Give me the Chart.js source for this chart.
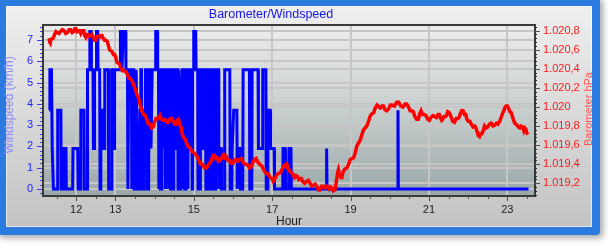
<!DOCTYPE html>
<html>
<head>
<meta charset="utf-8">
<script src="https://cdn.jsdelivr.net/npm/chart.js@4"></script>
<style>
  html, body { margin: 0; padding: 0; background: #fff; }
</style>
</head>
<body>
<canvas id="chart" width="611" height="246"></canvas>
<script>
// wind speed (km/h), change points
const windHours = [
  11.32, 11.33, 11.37, 11.39, 11.42, 11.52, 11.53, 11.61, 11.62, 11.67, 11.68, 11.74, 11.75,
  11.91, 11.92, 12.04, 12.05, 12.11, 12.12, 12.20, 12.21, 12.28, 12.29, 12.34, 12.35, 12.38,
  12.39, 12.43, 12.44, 12.46, 12.47, 12.51, 12.52, 12.55, 12.56, 12.60, 12.61, 12.63, 12.65,
  12.68, 12.69, 12.72, 12.73, 12.82, 12.83, 12.90, 12.91, 12.96, 12.97, 12.98, 13.12, 13.13,
  13.16, 13.17, 13.19, 13.20, 13.26, 13.27, 13.31, 13.32, 13.34, 13.41, 13.42, 13.44, 13.47,
  13.48, 13.52, 13.53, 13.55, 13.56, 13.58, 13.62, 13.63, 13.65, 13.67, 13.68, 13.72, 13.73,
  13.76, 13.77, 13.80, 13.81, 13.85, 13.86, 13.90, 13.91, 13.93, 13.94, 14.02, 14.03, 14.07,
  14.08, 14.10, 14.11, 14.12, 14.14, 14.15, 14.18, 14.19, 14.22, 14.23, 14.24, 14.27, 14.28,
  14.30, 14.32, 14.35, 14.36, 14.37, 14.40, 14.41, 14.43, 14.44, 14.47, 14.48, 14.49, 14.52,
  14.53, 14.55, 14.56, 14.59, 14.60, 14.61, 14.62, 14.63, 14.66, 14.67, 14.70, 14.73, 14.74,
  14.75, 14.76, 14.77, 14.79, 14.80, 14.84, 14.85, 14.86, 14.88, 14.89, 14.91, 14.95, 14.96,
  14.97, 14.99, 15.00, 15.05, 15.06, 15.10, 15.11, 15.16, 15.17, 15.22, 15.23, 15.26, 15.27,
  15.30, 15.31, 15.35, 15.36, 15.40, 15.41, 15.43, 15.47, 15.48, 15.52, 15.53, 15.56, 15.57,
  15.63, 15.64, 15.66, 15.70, 15.71, 15.78, 15.79, 15.92, 15.93, 15.97, 15.98, 16.02, 16.10,
  16.11, 16.14, 16.18, 16.19, 16.25, 16.26, 16.42, 16.43, 16.48, 16.49, 16.64, 16.65, 16.75,
  16.76, 16.84, 16.85, 16.88, 16.89, 16.95, 16.96, 17.05, 17.06, 17.27, 17.28, 17.33, 17.34,
  17.42, 17.43, 17.48, 17.49, 18.38, 18.39, 18.40, 20.20, 20.21, 20.22, 23.54
];
const windSpeed = [
  3.7, 5.6, 5.6, 1.9, 0, 0, 3.7, 3.7, 0, 0, 1.9, 1.9, 0,
  0, 1.9, 1.9, 0, 0, 3.7, 3.7, 0, 0, 5.6, 5.6, 7.4, 7.4,
  5.6, 5.6, 1.9, 1.9, 5.6, 5.6, 7.4, 7.4, 5.6, 5.6, 0, 1.9, 3.7,
  3.7, 1.9, 1.9, 5.6, 5.6, 0, 0, 5.6, 5.6, 1.9, 5.6, 5.6, 7.4,
  7.4, 5.6, 5.6, 7.4, 7.4, 5.6, 5.6, 0, 5.6, 5.6, 0, 5.6, 5.6,
  0, 0, 5.6, 5.6, 1.9, 0, 0, 3.7, 5.6, 5.6, 0, 0, 3.7,
  3.7, 5.6, 5.6, 0, 0, 5.6, 5.6, 1.9, 1.9, 5.6, 5.6, 7.4, 7.4,
  5.6, 5.6, 0, 5.6, 5.6, 0, 0, 5.6, 5.6, 1.9, 5.6, 5.6, 0,
  3.7, 5.6, 5.6, 0, 5.6, 5.6, 0, 0, 5.6, 5.6, 0, 5.6, 5.6,
  1.9, 1.9, 5.6, 5.6, 0, 5.6, 5.6, 0, 0, 3.7, 5.6, 5.6, 0,
  5.6, 5.6, 0, 0, 5.6, 5.6, 0, 5.6, 5.6, 1.9, 5.6, 5.6, 0,
  5.6, 5.6, 7.4, 7.4, 5.6, 5.6, 0, 0, 5.6, 5.6, 1.9, 1.9, 5.6,
  5.6, 0, 0, 5.6, 5.6, 3.7, 0, 0, 5.6, 5.6, 0, 0, 5.6,
  5.6, 0, 1.9, 1.9, 0, 0, 5.6, 5.6, 0, 0, 1.9, 3.7, 3.7,
  0, 1.9, 1.9, 0, 0, 5.6, 5.6, 0, 0, 5.6, 5.6, 1.9, 1.9,
  5.6, 5.6, 0, 0, 3.7, 3.7, 1.9, 1.9, 0, 0, 1.9, 1.9, 0,
  0, 1.9, 1.9, 0, 0, 1.9, 0, 0, 3.7, 0, 0
];

// barometer (hPa)
const baroHours = [
  11.31, 11.325, 11.34, 11.36, 11.38, 11.415, 11.45, 11.485, 11.52, 11.56, 11.60, 11.645, 11.69,
  11.735, 11.78, 11.82, 11.86, 11.90, 11.94, 11.965, 11.99, 12.025, 12.06, 12.09, 12.12, 12.155,
  12.19, 12.22, 12.25, 12.28, 12.31, 12.34, 12.37, 12.405, 12.44, 12.47, 12.50, 12.53, 12.56,
  12.595, 12.63, 12.66, 12.69, 12.725, 12.76, 12.79, 12.82, 12.85, 12.88, 12.915, 12.95, 12.98,
  13.01, 13.04, 13.07, 13.105, 13.14, 13.18, 13.22, 13.265, 13.31, 13.345, 13.38, 13.43, 13.48,
  13.515, 13.55, 13.59, 13.63, 13.675, 13.72, 13.76, 13.80, 13.83, 13.86, 13.895, 13.93, 13.965,
  14.00, 14.035, 14.07, 14.105, 14.14, 14.18, 14.22, 14.265, 14.31, 14.355, 14.40, 14.44, 14.48,
  14.515, 14.55, 14.58, 14.61, 14.645, 14.68, 14.71, 14.74, 14.78, 14.82, 14.865, 14.91, 14.955,
  15.00, 15.06, 15.12, 15.17, 15.22, 15.275, 15.33, 15.365, 15.40, 15.43, 15.46, 15.495, 15.53,
  15.56, 15.59, 15.635, 15.68, 15.72, 15.76, 15.795, 15.83, 15.875, 15.92, 15.96, 16.00, 16.04,
  16.08, 16.125, 16.17, 16.21, 16.25, 16.295, 16.34, 16.38, 16.42, 16.46, 16.50, 16.545, 16.59,
  16.635, 16.68, 16.74, 16.80, 16.85, 16.90, 16.95, 17.00, 17.03, 17.06, 17.105, 17.15, 17.21,
  17.27, 17.31, 17.35, 17.375, 17.40, 17.44, 17.48, 17.525, 17.57, 17.61, 17.65, 17.68, 17.71,
  17.745, 17.78, 17.83, 17.88, 17.925, 17.97, 18.01, 18.05, 18.10, 18.15, 18.185, 18.22, 18.26,
  18.30, 18.35, 18.40, 18.43, 18.46, 18.49, 18.52, 18.56, 18.60, 18.625, 18.65, 18.67, 18.69,
  18.715, 18.74, 18.76, 18.78, 18.82, 18.86, 18.905, 18.95, 18.995, 19.04, 19.08, 19.12, 19.16,
  19.20, 19.245, 19.29, 19.33, 19.37, 19.415, 19.46, 19.505, 19.55, 19.59, 19.63, 19.675, 19.72,
  19.76, 19.80, 19.84, 19.88, 19.925, 19.97, 20.015, 20.06, 20.12, 20.18, 20.23, 20.28, 20.335,
  20.39, 20.435, 20.48, 20.52, 20.56, 20.60, 20.64, 20.685, 20.73, 20.765, 20.80, 20.84, 20.88,
  20.925, 20.97, 21.01, 21.05, 21.10, 21.15, 21.19, 21.23, 21.265, 21.30, 21.325, 21.35, 21.385,
  21.42, 21.45, 21.48, 21.52, 21.56, 21.605, 21.65, 21.695, 21.74, 21.77, 21.80, 21.835, 21.87,
  21.905, 21.94, 21.97, 22.00, 22.04, 22.08, 22.125, 22.17, 22.20, 22.23, 22.26, 22.29, 22.32,
  22.35, 22.385, 22.42, 22.46, 22.50, 22.545, 22.59, 22.635, 22.68, 22.72, 22.76, 22.805, 22.85,
  22.885, 22.92, 22.945, 22.97, 23.00, 23.03, 23.065, 23.10, 23.13, 23.16, 23.19, 23.22, 23.25,
  23.28, 23.315, 23.35, 23.385, 23.42, 23.445, 23.47, 23.495, 23.52
];
const baroValues = [
  1020.72, 1020.68, 1020.67, 1020.71, 1020.71, 1020.72, 1020.76, 1020.79, 1020.78, 1020.77, 1020.79, 1020.81, 1020.80,
  1020.77, 1020.78, 1020.81, 1020.81, 1020.78, 1020.79, 1020.82, 1020.82, 1020.79, 1020.80, 1020.80, 1020.77, 1020.80,
  1020.80, 1020.75, 1020.73, 1020.76, 1020.76, 1020.74, 1020.75, 1020.76, 1020.73, 1020.70, 1020.70, 1020.74, 1020.74,
  1020.73, 1020.75, 1020.75, 1020.72, 1020.70, 1020.70, 1020.69, 1020.65, 1020.60, 1020.59, 1020.58, 1020.55, 1020.55,
  1020.52, 1020.47, 1020.46, 1020.45, 1020.41, 1020.38, 1020.38, 1020.37, 1020.34, 1020.30, 1020.30, 1020.27, 1020.22,
  1020.18, 1020.13, 1020.10, 1020.03, 1019.96, 1019.92, 1019.91, 1019.87, 1019.83, 1019.82, 1019.82, 1019.78, 1019.79,
  1019.84, 1019.88, 1019.88, 1019.88, 1019.91, 1019.87, 1019.86, 1019.87, 1019.84, 1019.84, 1019.88, 1019.88, 1019.85,
  1019.82, 1019.82, 1019.86, 1019.87, 1019.82, 1019.78, 1019.71, 1019.68, 1019.66, 1019.62, 1019.58, 1019.57, 1019.53,
  1019.52, 1019.50, 1019.45, 1019.40, 1019.40, 1019.36, 1019.36, 1019.39, 1019.41, 1019.42, 1019.45, 1019.49, 1019.49,
  1019.46, 1019.47, 1019.43, 1019.44, 1019.48, 1019.50, 1019.47, 1019.48, 1019.44, 1019.44, 1019.41, 1019.41, 1019.45,
  1019.45, 1019.43, 1019.45, 1019.46, 1019.43, 1019.40, 1019.40, 1019.39, 1019.36, 1019.37, 1019.41, 1019.45, 1019.46,
  1019.42, 1019.40, 1019.38, 1019.33, 1019.30, 1019.30, 1019.26, 1019.25, 1019.22, 1019.24, 1019.28, 1019.30, 1019.31,
  1019.36, 1019.39, 1019.40, 1019.37, 1019.38, 1019.33, 1019.31, 1019.30, 1019.26, 1019.28, 1019.27, 1019.24, 1019.25,
  1019.25, 1019.22, 1019.20, 1019.22, 1019.23, 1019.20, 1019.17, 1019.18, 1019.19, 1019.16, 1019.13, 1019.13, 1019.17,
  1019.17, 1019.15, 1019.17, 1019.16, 1019.14, 1019.16, 1019.15, 1019.12, 1019.13, 1019.18, 1019.25, 1019.31, 1019.34,
  1019.29, 1019.28, 1019.26, 1019.27, 1019.33, 1019.35, 1019.36, 1019.40, 1019.45, 1019.46, 1019.47, 1019.52, 1019.59,
  1019.62, 1019.65, 1019.71, 1019.76, 1019.78, 1019.80, 1019.85, 1019.91, 1019.93, 1019.94, 1019.99, 1020.02, 1020.00,
  1019.99, 1020.01, 1020.01, 1019.97, 1019.96, 1019.98, 1020.02, 1020.02, 1020.01, 1020.05, 1020.05, 1020.01, 1020.00,
  1020.03, 1020.03, 1020.00, 1019.96, 1019.96, 1019.95, 1019.90, 1019.87, 1019.87, 1019.93, 1019.96, 1019.92, 1019.92,
  1019.91, 1019.87, 1019.86, 1019.89, 1019.91, 1019.90, 1019.89, 1019.92, 1019.92, 1019.88, 1019.86, 1019.87, 1019.90,
  1019.90, 1019.91, 1019.95, 1019.94, 1019.90, 1019.85, 1019.84, 1019.88, 1019.88, 1019.89, 1019.93, 1019.96, 1019.96,
  1019.92, 1019.92, 1019.87, 1019.85, 1019.85, 1019.82, 1019.79, 1019.80, 1019.78, 1019.74, 1019.70, 1019.69, 1019.72,
  1019.72, 1019.75, 1019.80, 1019.78, 1019.79, 1019.82, 1019.83, 1019.80, 1019.81, 1019.83, 1019.82, 1019.85, 1019.90,
  1019.94, 1019.97, 1020.00, 1020.01, 1020.01, 1019.99, 1019.95, 1019.94, 1019.90, 1019.86, 1019.83, 1019.82, 1019.81,
  1019.79, 1019.78, 1019.80, 1019.79, 1019.75, 1019.78, 1019.77, 1019.73, 1019.71
];

const hourTicks = [12, 13, 15, 17, 19, 21, 23];
const windTicks = [0, 1, 2, 3, 4, 5, 6, 7];
const baroTicks = [1019.2, 1019.4, 1019.6, 1019.8, 1020.0, 1020.2, 1020.4, 1020.6, 1020.8];
const baroTickLabels = ['1.019,2', '1.019,4', '1.019,6', '1.019,8', '1.020', '1.020,2', '1.020,4', '1.020,6', '1.020,8'];

const FONT = '"Liberation Sans", Arial, sans-serif';

const framePlugin = {
  id: 'frame',
  beforeDraw(chart) {
    const ctx = chart.ctx;
    const a = chart.chartArea;
    ctx.save();
    ctx.fillStyle = '#ffffff';
    ctx.fillRect(0, 0, chart.width, chart.height);
    // blue outer border with a soft shadow
    ctx.shadowColor = 'rgba(0,0,0,0.35)';
    ctx.shadowBlur = 6;
    ctx.shadowOffsetX = 3;
    ctx.shadowOffsetY = 3;
    ctx.fillStyle = '#2a7ae0';
    ctx.beginPath();
    ctx.roundRect(-4, -4, 604, 239, 4);
    ctx.fill();
    ctx.shadowColor = 'transparent';
    // grey panel
    let g = ctx.createLinearGradient(0, 6, 0, 227);
    g.addColorStop(0, '#efefef');
    g.addColorStop(1, '#c3c3c3');
    ctx.fillStyle = g;
    ctx.fillRect(6, 6, 586, 221);
    ctx.strokeStyle = 'rgba(255,255,255,0.6)';
    ctx.lineWidth = 1;
    ctx.strokeRect(6.5, 6.5, 585, 220);
    // plot background
    g = ctx.createLinearGradient(0, a.top, 0, a.bottom);
    g.addColorStop(0, '#ececec');
    g.addColorStop(0.5, '#c8cece');
    g.addColorStop(1, '#9ba8a8');
    ctx.fillStyle = g;
    ctx.fillRect(a.left, a.top, a.right - a.left, a.bottom - a.top);
    ctx.restore();
  },
  afterDraw(chart) {
    const ctx = chart.ctx;
    const a = chart.chartArea;
    const sx = chart.scales.x, sy = chart.scales.y, sy1 = chart.scales.y1;
    ctx.save();
    // plot border
    ctx.strokeStyle = '#3a3a3a';
    ctx.lineWidth = 2;
    ctx.strokeRect(a.left - 1, a.top - 1, a.right - a.left + 2, a.bottom - a.top + 2);

    // left axis ticks
    ctx.strokeStyle = '#3a3aff';
    ctx.lineWidth = 1;
    for (let v = -0.2; v <= 7.61; v += 0.2) {
      const y = Math.round(sy.getPixelForValue(v)) + 0.5;
      const major = Math.abs(v - Math.round(v)) < 0.01;
      ctx.beginPath();
      ctx.moveTo(a.left - 2, y);
      ctx.lineTo(a.left - (major ? 7 : 4), y);
      ctx.stroke();
    }
    // right axis ticks
    ctx.strokeStyle = '#202020';
    for (let v = 1019.08; v <= 1020.849; v += 0.04) {
      const y = Math.round(sy1.getPixelForValue(v)) + 0.5;
      ctx.beginPath();
      ctx.moveTo(a.right + 1, y);
      ctx.lineTo(a.right + 3, y);
      ctx.stroke();
    }
    ctx.strokeStyle = '#505050';
    baroTicks.forEach(v => {
      const y = Math.round(sy1.getPixelForValue(v)) + 0.5;
      ctx.beginPath();
      ctx.moveTo(a.right + 1, y);
      ctx.lineTo(a.right + 6, y);
      ctx.stroke();
    });
    // bottom axis ticks
    ctx.strokeStyle = '#505050';
    for (let h = 11.5; h <= 23.5; h += 0.5) {
      const x = Math.round(sx.getPixelForValue(h)) + 0.5;
      const major = hourTicks.includes(h);
      ctx.beginPath();
      ctx.moveTo(x, a.bottom + 1);
      ctx.lineTo(x, a.bottom + (major ? 6 : 4));
      ctx.stroke();
    }

    // titles
    ctx.textBaseline = 'middle';
    ctx.textAlign = 'center';
    ctx.font = '12.5px ' + FONT;
    ctx.fillStyle = '#1414e6';
    ctx.fillText('Barometer/Windspeed', 271, 15);
    ctx.font = '12px ' + FONT;
    ctx.fillStyle = '#202020';
    ctx.fillText('Hour', (a.left + a.right) / 2, 222);

    ctx.save();
    ctx.translate(10, 105);
    ctx.rotate(-Math.PI / 2);
    ctx.fillStyle = '#8a8cf6';
    ctx.fillText('Windspeed (km/h)', 0, 0);
    ctx.restore();

    ctx.save();
    ctx.translate(589, 109);
    ctx.rotate(-Math.PI / 2);
    ctx.font = '11px ' + FONT;
    ctx.fillStyle = '#ff5a5a';
    ctx.fillText('Barometer hPa', 0, 0);
    ctx.restore();

    ctx.restore();
  }
};

const gridOpts = { color: '#c6c6c6', lineWidth: 2, drawTicks: false };

new Chart(document.getElementById('chart').getContext('2d'), {
  type: 'line',
  data: {
    datasets: [
      {
        label: 'Barometer',
        data: baroHours.map((h, i) => ({ x: h, y: baroValues[i] })),
        yAxisID: 'y1',
        borderColor: '#ff0000',
        borderWidth: 3.5,
        pointRadius: 0,
        tension: 0,
        order: 0
      },
      {
        label: 'Windspeed',
        data: windHours.map((h, i) => ({ x: h, y: windSpeed[i] })),
        yAxisID: 'y',
        borderColor: '#0000ff',
        borderWidth: 3,
        pointRadius: 0,
        tension: 0,
        order: 1
      }
    ]
  },
  options: {
    responsive: false,
    animation: false,
    devicePixelRatio: 1,
    layout: { padding: { top: 26, left: 0, right: 0, bottom: 0 } },
    plugins: {
      legend: { display: false },
      tooltip: { enabled: false },
      title: { display: false }
    },
    scales: {
      x: {
        type: 'linear',
        min: 11.18,
        max: 23.68,
        grid: gridOpts,
        border: { display: false },
        afterBuildTicks: s => { s.ticks = hourTicks.map(v => ({ value: v })); },
        afterFit: s => { s.height = 51; },
        ticks: {
          autoSkip: false,
          maxRotation: 0,
          padding: 8,
          color: '#202020',
          font: { family: FONT, size: 11 }
        }
      },
      y: {
        position: 'left',
        min: -0.282,
        max: 7.658,
        grid: gridOpts,
        border: { display: false },
        afterBuildTicks: s => { s.ticks = windTicks.map(v => ({ value: v })); },
        afterFit: s => { s.width = 44; },
        ticks: {
          padding: 11,
          color: '#2222ff',
          font: { family: FONT, size: 11 }
        }
      },
      y1: {
        position: 'right',
        min: 1019.077,
        max: 1020.849,
        grid: gridOpts,
        border: { display: false },
        afterBuildTicks: s => { s.ticks = baroTicks.map(v => ({ value: v })); },
        afterFit: s => { s.width = 77; },
        ticks: {
          padding: 9,
          color: '#ff1a1a',
          font: { family: FONT, size: 11 },
          callback: (v, i) => baroTickLabels[i]
        }
      }
    }
  },
  plugins: [framePlugin]
});
</script>
</body>
</html>
